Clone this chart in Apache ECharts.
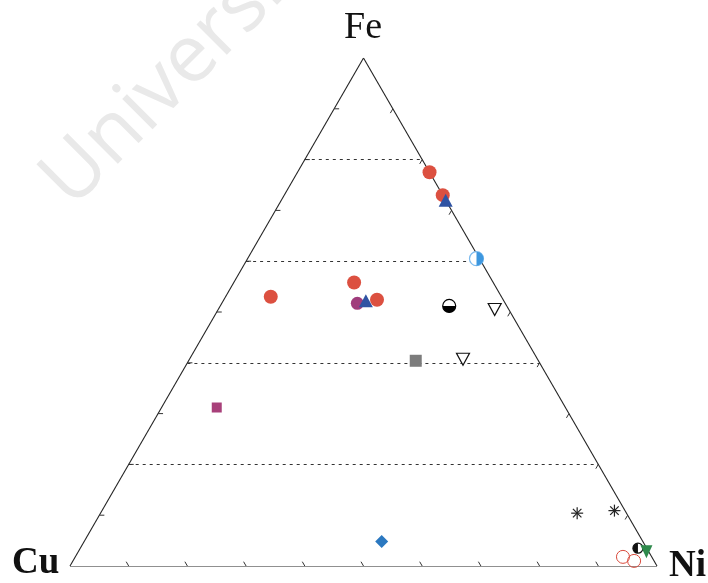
<!DOCTYPE html>
<html><head><meta charset="utf-8">
<script src="https://cdn.jsdelivr.net/npm/echarts@6/dist/echarts.min.js"></script>
<style>html,body{margin:0;padding:0;background:#fff}#c{width:708px;height:583px}</style>
</head><body><div id="c"></div>
<script>
// Ternary compositions, in percent: [Fe, Ni, Cu]
const cornerLabels = ['Fe', 'Cu', 'Ni'];
const gridLevels = [20, 40, 60, 80];
const tickLevels = [10, 20, 30, 40, 50, 60, 70, 80, 90];
const redCircles = [[77.5, 22.5, 0], [73, 27, 0], [53, 7.7, 39.3], [55.8, 20.5, 23.7], [52.4, 26.1, 21.5]];
const purpleCircles = [[51.7, 23.1, 25.2]];
const blueTriangles = [[72, 28, 0], [52.2, 24.3, 23.5]];
const lightBlueHalf = [[60.5, 39, 0.5]];
const blackWhiteHalf = [[51.2, 39, 9.8]];
const openTriangles = [[50.5, 47.1, 2.4], [40.7, 46.6, 12.7]];
const graySquares = [[40.4, 38.7, 20.9]];
const magentaSquares = [[31.2, 9.4, 59.4]];
const blueDiamonds = [[4.8, 50.7, 44.5]];
const asterisks = [[10.4, 81.2, 8.4], [10.9, 87.3, 1.8]];
const openRedCircles = [[1.8, 93.3, 4.9], [1.0, 95.6, 3.4]];
const blackHalfNi = [[3.5, 95, 1.5]];
const greenTriangles = [[2.8, 96.8, 0.4]];

// ternary -> cartesian (x = Ni + Fe/2, y = Fe)
function tc(fe, ni) { return [(ni + fe / 2) / 100, fe / 100]; }
function pts(arr) { return arr.map(d => tc(d[0], d[1])); }

const chart = echarts.init(document.getElementById('c'), null, {renderer: 'canvas'});

const edges = [[tc(0, 0), tc(0, 100)], [tc(0, 100), tc(100, 0)], [tc(100, 0), tc(0, 0)]];
const gridSegs = gridLevels.map(f => [tc(f, 0), tc(f, 100 - f)]);
const tickData = [];
tickLevels.forEach(t => {
  const l = tc(t, 0); tickData.push([l[0], l[1], 0]);
  const r = tc(t, 100 - t); tickData.push([r[0], r[1], 1]);
  const b = tc(0, t); tickData.push([b[0], b[1], 2]);
});
const tickDirs = [[5, 0], [-2.5, 4.3], [-2.5, -4.3]];

function halfCircle(fillColor, strokeColor, a0, a1, r) {
  return function (params, api) {
    const p = api.coord([api.value(0), api.value(1)]);
    return {type: 'group', children: [
      {type: 'circle', shape: {cx: p[0], cy: p[1], r: r}, style: {fill: '#fff', stroke: strokeColor, lineWidth: 1.2}},
      {type: 'sector', shape: {cx: p[0], cy: p[1], r: r, r0: 0, startAngle: a0, endAngle: a1, clockwise: true}, style: {fill: fillColor}}
    ]};
  };
}

const option = {
  animation: false,
  grid: {left: 70, right: 51, top: 58, bottom: 17},
  xAxis: {type: 'value', min: 0, max: 1, show: false},
  yAxis: {type: 'value', min: 0, max: 1, show: false},
  graphic: [
    {type: 'text', x: 84, y: 222, rotation: Math.PI / 4, z: -10, silent: true,
      style: {text: 'University of Cape Town', font: '80px "Open Sans"', fill: '#e9e9e9', textVerticalAlign: 'bottom'}},
    {type: 'text', x: 363, y: 47, style: {text: cornerLabels[0], font: '38px "Liberation Serif"', fill: '#111', textAlign: 'center', textVerticalAlign: 'bottom'}},
    {type: 'text', x: 12, y: 582, style: {text: cornerLabels[1], font: 'bold 37px "Liberation Serif"', fill: '#111', textAlign: 'left', textVerticalAlign: 'bottom'}},
    {type: 'text', x: 669, y: 585, style: {text: cornerLabels[2], font: 'bold 37px "Liberation Serif"', fill: '#111', textAlign: 'left', textVerticalAlign: 'bottom'}}
  ],
  series: [
    {type: 'lines', coordinateSystem: 'cartesian2d', silent: true, z: 1,
      lineStyle: {color: '#333', width: 1, type: [3, 4], opacity: 1},
      data: gridSegs.map(s => ({coords: s}))},
    {type: 'lines', coordinateSystem: 'cartesian2d', silent: true, z: 1,
      lineStyle: {color: '#222', width: 1.1, opacity: 1},
      data: edges.map(s => ({coords: s}))},
    {type: 'custom', silent: true, z: 1, data: tickData,
      renderItem: function (params, api) {
        const p = api.coord([api.value(0), api.value(1)]);
        const d = tickDirs[api.value(2)];
        return {type: 'line', shape: {x1: p[0], y1: p[1], x2: p[0] + d[0], y2: p[1] + d[1]}, style: {stroke: '#333', lineWidth: 1}};
      }},
    {type: 'scatter', z: 3, symbol: 'circle', symbolSize: 14, itemStyle: {color: '#dc5040', opacity: 1}, data: pts(redCircles)},
    {type: 'scatter', z: 4, symbol: 'circle', symbolSize: 13, itemStyle: {color: '#a03c7c', opacity: 1}, data: pts(purpleCircles)},
    {type: 'scatter', z: 5, symbol: 'triangle', symbolSize: [14, 13], itemStyle: {color: '#2f53a3', opacity: 1}, data: pts(blueTriangles)},
    {type: 'custom', z: 3, data: pts(lightBlueHalf), renderItem: halfCircle('#3d97df', '#7dbbee', -Math.PI / 2, Math.PI / 2, 7)},
    {type: 'custom', z: 3, data: pts(blackWhiteHalf), renderItem: halfCircle('#000', '#000', 0, Math.PI, 6.5)},
    {type: 'scatter', z: 3, symbol: 'triangle', symbolRotate: 180, symbolSize: [13, 12], itemStyle: {color: '#fff', borderColor: '#111', borderWidth: 1.2, opacity: 1}, data: pts(openTriangles)},
    {type: 'scatter', z: 3, symbol: 'rect', symbolSize: 12, itemStyle: {color: '#7c7c7c', opacity: 1}, data: pts(graySquares)},
    {type: 'scatter', z: 3, symbol: 'rect', symbolSize: 10, itemStyle: {color: '#a8407a', opacity: 1}, data: pts(magentaSquares)},
    {type: 'scatter', z: 3, symbol: 'diamond', symbolSize: 13, itemStyle: {color: '#2b78c0', opacity: 1}, data: pts(blueDiamonds)},
    {type: 'custom', z: 3, data: pts(asterisks), renderItem: function (params, api) {
      const p = api.coord([api.value(0), api.value(1)]);
      const r = 6, c = [];
      for (let k = 0; k < 4; k++) {
        const a = k * Math.PI / 4;
        c.push({type: 'line', shape: {x1: p[0] - r * Math.cos(a), y1: p[1] - r * Math.sin(a), x2: p[0] + r * Math.cos(a), y2: p[1] + r * Math.sin(a)}, style: {stroke: '#222', lineWidth: 1.2}});
      }
      return {type: 'group', children: c};
    }},
    {type: 'scatter', z: 3, symbol: 'circle', symbolSize: 13, itemStyle: {color: 'rgba(255,255,255,0)', borderColor: '#d84a3c', borderWidth: 1, opacity: 1}, data: pts(openRedCircles)},
    {type: 'custom', z: 3, data: pts(blackHalfNi), renderItem: halfCircle('#111', '#111', Math.PI / 2, Math.PI * 1.5, 5)},
    {type: 'scatter', z: 4, symbol: 'triangle', symbolRotate: 180, symbolSize: [12, 13], itemStyle: {color: '#2e8a4c', opacity: 1}, data: pts(greenTriangles)}
  ]
};
chart.setOption(option);
</script>
</body></html>
